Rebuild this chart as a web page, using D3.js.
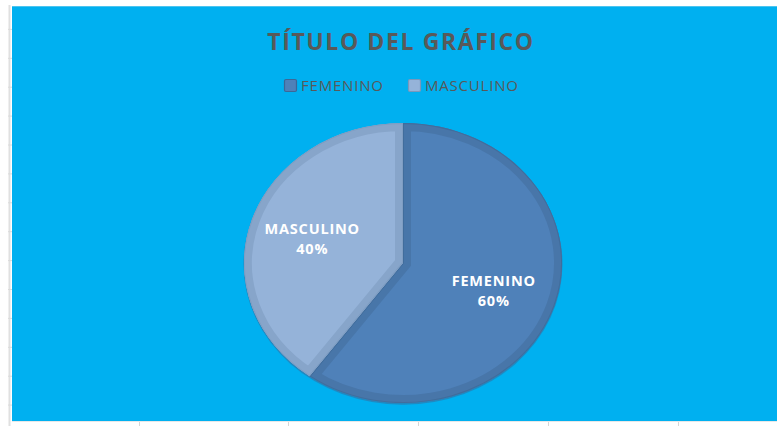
<!DOCTYPE html>
<html>
<head>
<meta charset="utf-8">
<script src="https://cdn.jsdelivr.net/npm/d3@7"></script>
<style>
  html, body { margin: 0; padding: 0; background: #ffffff; }
  svg { display: block; }
  text { font-family: "Open Sans", "DejaVu Sans", sans-serif; }
</style>
</head>
<body>
<svg id="chart" width="777" height="426"></svg>
<script>
// ---- data ----
const categories = ["FEMENINO", "MASCULINO"];
const values = [60, 40];
const percentLabels = ["60%", "40%"];
const title = "TÍTULO DEL GRÁFICO";
const sliceColors = ["#4f81b9", "#95b3d9"];
const bandColors = ["#4876a9", "#87a5ca"];
const edgeColors = ["#3d6796", "#7b97ba"];

const W = 777, H = 426;
const svg = d3.select("#chart");

// spreadsheet grid remnants
const grid = svg.append("g");
grid.append("line").attr("x1", 9.5).attr("x2", 9.5).attr("y1", 5).attr("y2", H)
  .attr("stroke", "#e0e0e0").attr("stroke-width", 2);
d3.range(1, 15).forEach(i => {
  const y = 0.5 + i * 28.9;
  grid.append("line").attr("x1", 8).attr("x2", 12).attr("y1", y).attr("y2", y)
    .attr("stroke", "#dadada").attr("stroke-width", 1);
});
[139, 288, 418, 548, 678].forEach(x => {
  grid.append("line").attr("x1", x + 0.5).attr("x2", x + 0.5).attr("y1", 421).attr("y2", H)
    .attr("stroke", "#d6d6d6").attr("stroke-width", 1);
});

// chart area
svg.append("rect").attr("x", 12).attr("y", 6).attr("width", W - 12).attr("height", 416)
  .attr("fill", "#00b0f0");
svg.append("line").attr("x1", 12).attr("x2", W).attr("y1", 6.5).attr("y2", 6.5)
  .attr("stroke", "#4cc4ef").attr("stroke-width", 1);
svg.append("line").attr("x1", 12).attr("x2", W).attr("y1", 421.5).attr("y2", 421.5)
  .attr("stroke", "#e8e8e8").attr("stroke-width", 1);

// title
svg.append("text").attr("x", 401).attr("y", 49.5)
  .attr("text-anchor", "middle")
  .attr("font-size", 23).attr("font-weight", 700).attr("fill", "#595959")
  .attr("letter-spacing", 1.6)
  .text(title);

// legend
const legendItems = [
  { x: 284, tx: 301 },
  { x: 408, tx: 425 }
];
const legend = svg.append("g");
categories.forEach((c, i) => {
  legend.append("rect").attr("x", legendItems[i].x + 0.5).attr("y", 79.5)
    .attr("width", 12).attr("height", 12).attr("rx", 1.5)
    .attr("fill", sliceColors[i]).attr("stroke", edgeColors[i])
    .attr("stroke-width", 1.2);
  legend.append("text").attr("x", legendItems[i].tx).attr("y", 91)
    .attr("font-size", 15).attr("fill", "#595959")
    .attr("letter-spacing", 0.8).text(c);
});

// pie (ellipse)
const cx = 403, cy = 263, rx = 159, ry = 140;
const pie = d3.pie().sort(null).value(d => d)(values);
const arc = d3.arc().innerRadius(0).outerRadius(rx);
const labelArc = d3.arc().innerRadius(rx * 0.6).outerRadius(rx * 0.6);

const defs = svg.append("defs");
const pg = svg.append("g").attr("transform", `translate(${cx},${cy}) scale(1,${ry / rx})`);

// soft outer shadow edge
pg.append("ellipse").attr("cx", 0).attr("cy", 1.5).attr("rx", rx + 0.5).attr("ry", rx + 0.5)
  .attr("fill", "#3b6a9a").attr("opacity", 0.55);

pie.forEach((p, i) => {
  const d = arc(p);
  defs.append("clipPath").attr("id", "clip" + i)
    .append("path").attr("d", d)
    .attr("transform", `translate(${cx},${cy}) scale(1,${ry / rx})`);
  const g = svg.append("g").attr("clip-path", `url(#clip${i})`);
  const inner = g.append("g").attr("transform", `translate(${cx},${cy}) scale(1,${ry / rx})`);
  inner.append("path").attr("d", d).attr("fill", sliceColors[i]);
  inner.append("path").attr("d", d).attr("fill", "none")
    .attr("stroke", bandColors[i]).attr("stroke-width", 16)
    .attr("stroke-linejoin", "miter")
    .attr("vector-effect", "non-scaling-stroke");
  inner.append("path").attr("d", d).attr("fill", "none")
    .attr("stroke", i === 0 ? "#416d9c" : "#7f9dc2").attr("stroke-width", 2)
    .attr("vector-effect", "non-scaling-stroke");
});

// data labels
pie.forEach((p, i) => {
  const [lx, ly] = labelArc.centroid(p);
  const x = cx + lx, y = cy + ly * ry / rx;
  const t = svg.append("text").attr("text-anchor", "middle")
    .attr("font-size", 14.5).attr("font-weight", 700).attr("fill", "#ffffff")
    .attr("letter-spacing", 0.8);
  t.append("tspan").attr("x", x).attr("y", y - 3).text(categories[i]);
  t.append("tspan").attr("x", x).attr("y", y + 17).text(percentLabels[i]);
});
</script>
</body>
</html>
